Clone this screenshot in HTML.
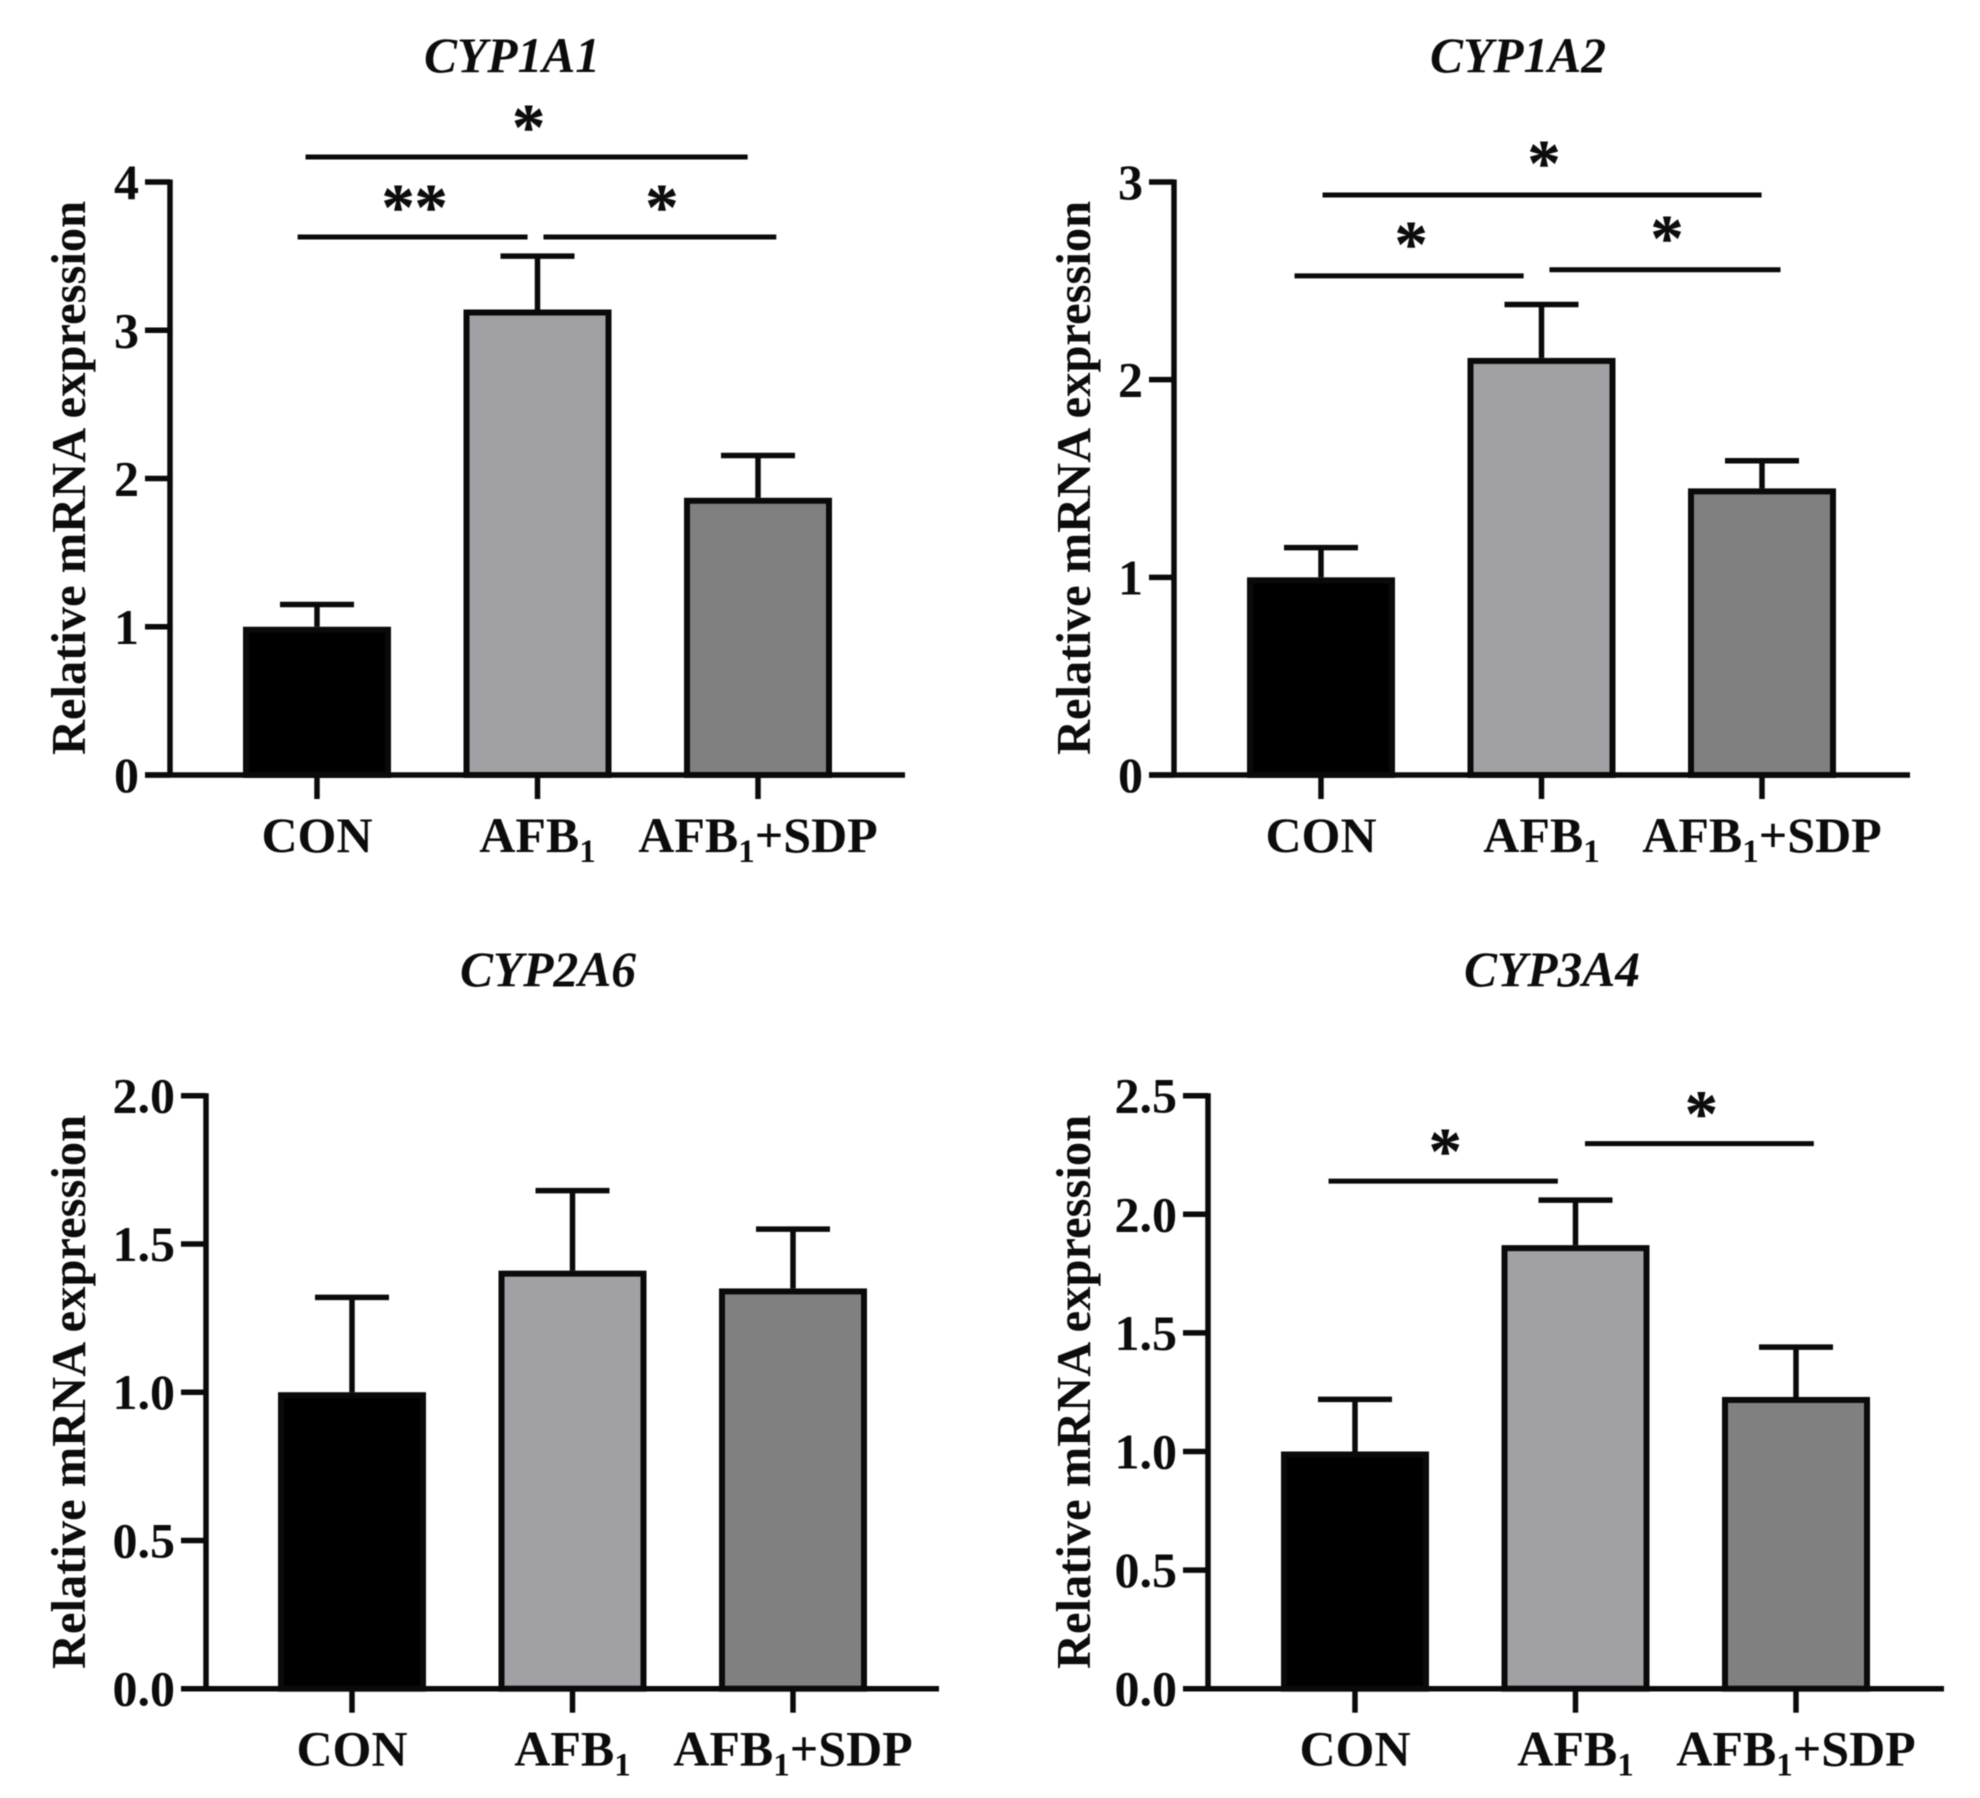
<!DOCTYPE html>
<html lang="en">
<head>
<meta charset="utf-8">
<title>Relative mRNA expression of CYP genes</title>
<style>
  html, body { margin: 0; padding: 0; background: #fff; }
  svg { display: block; filter: blur(0.6px); }
  text { font-family: "Liberation Serif", "Times New Roman", serif; font-weight: bold; fill: #0c0c0c; }
  .title { font-size: 49.5px; font-style: italic; text-anchor: middle; }
  .ylab { font-size: 48.5px; text-anchor: middle; }
</style>
</head>
<body>
<svg id="figure" width="1980" height="1798" viewBox="0 0 1980 1798" xmlns="http://www.w3.org/2000/svg">
  <rect x="0" y="0" width="1980" height="1798" fill="#ffffff"/>
  <text class="title" x="512" y="72">CYP1A1</text>
  <text class="title" x="1518" y="72">CYP1A2</text>
  <text class="title" x="548" y="986">CYP2A6</text>
  <text class="title" x="1552" y="986">CYP3A4</text>
  <text class="ylab" transform="translate(85 478) rotate(-90)">Relative mRNA expression</text>
  <text class="ylab" transform="translate(1090 478) rotate(-90)">Relative mRNA expression</text>
  <text class="ylab" transform="translate(85 1392) rotate(-90)">Relative mRNA expression</text>
  <text class="ylab" transform="translate(1090 1392) rotate(-90)">Relative mRNA expression</text>
</svg>
<script>
// Shared categories and colours
const categoryParts = [['CON'], ['AFB', '1'], ['AFB', '1', '+SDP']];
const barFills = ['#000000', '#a0a0a5', '#808080'];

// CYP1A1
const cyp1a1Means = [1.0, 3.14, 1.87];
const cyp1a1Errors = [0.15, 0.36, 0.285];
const cyp1a1Ticks = ['0', '1', '2', '3', '4'];
const cyp1a1TickValues = [0, 1, 2, 3, 4];
const cyp1a1Sig = [
  { label: '*', from: -0.052, to: 1.953, level: 4.169 },
  { label: '**', from: -0.088, to: 0.955, level: 3.629 },
  { label: '*', from: 1.027, to: 2.083, level: 3.629 }
];

// CYP1A2
const cyp1a2Means = [1.0, 2.11, 1.45];
const cyp1a2Errors = [0.15, 0.27, 0.14];
const cyp1a2Ticks = ['0', '1', '2', '3'];
const cyp1a2TickValues = [0, 1, 2, 3];
const cyp1a2Sig = [
  { label: '*', from: 0.007, to: 1.998, level: 2.934 },
  { label: '*', from: -0.12, to: 0.919, level: 2.525 },
  { label: '*', from: 1.036, to: 2.084, level: 2.556 }
];

// CYP2A6
const cyp2a6Means = [1.0, 1.41, 1.35];
const cyp2a6Errors = [0.32, 0.27, 0.2];
const cyp2a6Ticks = ['0.0', '0.5', '1.0', '1.5', '2.0'];
const cyp2a6TickValues = [0, 0.5, 1, 1.5, 2];
const cyp2a6Sig = [];

// CYP3A4
const cyp3a4Means = [1.0, 1.87, 1.23];
const cyp3a4Errors = [0.22, 0.19, 0.21];
const cyp3a4Ticks = ['0.0', '0.5', '1.0', '1.5', '2.0', '2.5'];
const cyp3a4TickValues = [0, 0.5, 1, 1.5, 2, 2.5];
const cyp3a4Sig = [
  { label: '*', from: -0.12, to: 0.92, level: 2.14 },
  { label: '*', from: 1.043, to: 2.081, level: 2.298 }
];

const SVG_NS = 'http://www.w3.org/2000/svg';
const figure = document.getElementById('figure');

function make(tag, attrs, parent) {
  const el = document.createElementNS(SVG_NS, tag);
  for (const k in attrs) el.setAttribute(k, attrs[k]);
  parent.appendChild(el);
  return el;
}

function drawPanel(p) {
  const yScale = v => p.bottom - (v / p.yMax) * (p.bottom - p.top);
  const xScale = c => p.x0 + c * p.step;
  const ink = '#0a0a0a';
  const sw = 5.5;

  const group = make('g', {}, figure);
  
  

  p.means.forEach((m, i) => {
    const cx = xScale(i);
    const whisker = make('line', { x1: cx, x2: cx, y1: yScale(m), y2: yScale(m + p.errors[i]), stroke: ink, 'stroke-width': sw }, group);
    
    
    const cap = make('line', { x1: cx - 37, x2: cx + 37, y1: yScale(m + p.errors[i]), y2: yScale(m + p.errors[i]), stroke: ink, 'stroke-width': sw }, group);
    
    
    const bar = make('rect', { x: cx - 71, width: 142, y: yScale(m) + 3, height: p.bottom - yScale(m) - 3, fill: barFills[i], stroke: ink, 'stroke-width': 6 }, group);
    
    
  });

  const yAxis = make('line', { x1: p.axisX, x2: p.axisX, y1: p.top - 2.5, y2: p.bottom + 2.5, stroke: ink, 'stroke-width': sw }, group);
  
  
  const xAxis = make('line', { x1: p.axisX - 25, x2: p.xEnd, y1: p.bottom, y2: p.bottom, stroke: ink, 'stroke-width': sw }, group);
  
  

  p.tickValues.forEach((v, i) => {
    const y = yScale(v);
    const tick = make('line', { x1: p.axisX - 25, x2: p.axisX, y1: y, y2: y, stroke: ink, 'stroke-width': sw }, group);
    
    
    const lab = make('text', { x: p.axisX - 31, y: y + 17, 'text-anchor': 'end', 'font-size': 50 }, group);
    
    
    lab.textContent = p.ticks[i];
  });

  categoryParts.forEach((parts, i) => {
    const cx = xScale(i);
    const tick = make('line', { x1: cx, x2: cx, y1: p.bottom, y2: p.bottom + 24, stroke: ink, 'stroke-width': sw }, group);
    
    
    const lab = make('text', { x: cx, y: p.bottom + 77, 'text-anchor': 'middle', 'font-size': 50 }, group);
    
    
    parts.forEach((s, j) => {
      const span = make('tspan', {}, lab);
      if (j === 1) { span.setAttribute('font-size', '33'); span.setAttribute('dy', '10'); }
      if (j === 2) { span.setAttribute('dy', '-10'); }
      span.textContent = s;
    });
  });

  p.sig.forEach((s, i) => {
    const y = yScale(s.level);
    const x1 = xScale(s.from), x2 = xScale(s.to);
    const line = make('line', { x1: x1, x2: x2, y1: y, y2: y, stroke: ink, 'stroke-width': 5 }, group);
    
    
    const star = make('text', { x: (x1 + x2) / 2 + 2, y: y - p.starGap + 30, 'text-anchor': 'middle', 'font-size': 66, stroke: '#0c0c0c', 'stroke-width': 0.5 }, group);
    
    
    star.textContent = s.label;
  });
}

drawPanel({ name: 'cyp1a1', axisX: 170, top: 182, bottom: 775, yMax: 4, x0: 317, step: 220.5, xEnd: 905, starGap: 38, means: cyp1a1Means, errors: cyp1a1Errors, ticks: cyp1a1Ticks, tickValues: cyp1a1TickValues, sig: cyp1a1Sig });
drawPanel({ name: 'cyp1a2', axisX: 1174, top: 182, bottom: 775, yMax: 3, x0: 1321, step: 220.5, xEnd: 1910, starGap: 40, means: cyp1a2Means, errors: cyp1a2Errors, ticks: cyp1a2Ticks, tickValues: cyp1a2TickValues, sig: cyp1a2Sig });
drawPanel({ name: 'cyp2a6', axisX: 206, top: 1095.7, bottom: 1688.7, yMax: 2, x0: 352, step: 220.5, xEnd: 939, starGap: 38, means: cyp2a6Means, errors: cyp2a6Errors, ticks: cyp2a6Ticks, tickValues: cyp2a6TickValues, sig: cyp2a6Sig });
drawPanel({ name: 'cyp3a4', axisX: 1208, top: 1095.7, bottom: 1688.7, yMax: 2.5, x0: 1355, step: 220.5, xEnd: 1944, starGap: 38, means: cyp3a4Means, errors: cyp3a4Errors, ticks: cyp3a4Ticks, tickValues: cyp3a4TickValues, sig: cyp3a4Sig });
</script>
</body>
</html>
